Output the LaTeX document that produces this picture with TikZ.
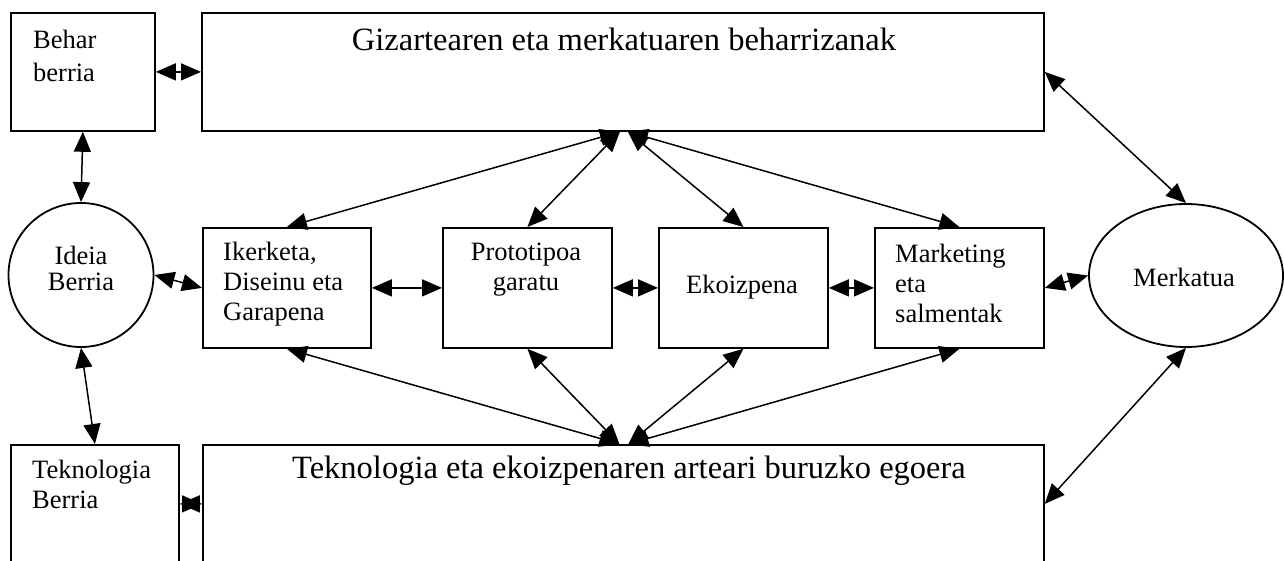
\documentclass[tikz,border=0pt]{standalone}
\usepackage{fontspec}
\setmainfont{Liberation Serif}
\usetikzlibrary{arrows.meta,shapes.geometric,calc}
% stacked lines whose baseline is that of the first line
\newcommand{\txtstack}[2]{\begin{tabular}[t]{@{}#1@{}}#2\end{tabular}}
\begin{document}
\begin{tikzpicture}[x=1pt,y=-1pt,
  box/.style={draw,line width=1.8pt,rectangle,inner sep=0pt,anchor=north west},
  oval/.style={draw,line width=1.8pt,ellipse,inner sep=0pt},
  link/.style={line width=1.5pt,{Triangle[length=20pt,width=17pt]}-{Triangle[length=20pt,width=17pt]}},
  small/.style={font=\fontsize{26.5}{30}\selectfont,inner sep=0pt},
  big/.style={font=\fontsize{32.5}{38}\selectfont,inner sep=0pt}]
\clip (0,0) rectangle (1284,561);
\fill[white] (0,0) rectangle (1284,561);

% frames
\node[box,minimum width=144pt,minimum height=118pt] (behar) at (10,12) {};
\node[box,minimum width=842pt,minimum height=118pt] (giz) at (201,12) {};
\node[box,minimum width=168pt,minimum height=120pt] (iker) at (202,227) {};
\node[box,minimum width=169pt,minimum height=120pt] (proto) at (442,227) {};
\node[box,minimum width=169pt,minimum height=120pt] (ekoiz) at (658,227) {};
\node[box,minimum width=169pt,minimum height=120pt] (mkt) at (874,227) {};
\node[box,minimum width=168pt,minimum height=118pt] (tekb) at (10,444) {};
\node[box,minimum width=841pt,minimum height=118pt] (tek) at (202,444) {};
\node[oval,minimum width=145pt,minimum height=144pt] (ideia) at (81,275) {};
\node[oval,minimum width=194pt,minimum height=143pt] (merk) at (1186,275.5) {};

% labels
\node[small,font=\fontsize{26.5}{33}\selectfont,anchor=base west] (behar-t) at (33,49) {\txtstack{l}{Behar\\berria}};
\node[big,anchor=base] (giz-t) at (624,51) {Gizartearen eta merkatuaren beharrizanak};
\node[small,font=\fontsize{26.5}{26}\selectfont,anchor=base] (ideia-t) at (81,265) {\txtstack{c}{Ideia\\Berria}};
\node[small,anchor=base west] (iker-t) at (223,261) {\txtstack{l}{Ikerketa,\\Diseinu eta\\Garapena}};
\node[small,anchor=base] (proto-t) at (526,261) {\txtstack{c}{Prototipoa\\garatu}};
\node[small,anchor=base] (ekoiz-t) at (742,293) {Ekoizpena};
\node[small,anchor=base west] (mkt-t) at (895,262) {\txtstack{l}{Marketing\\eta\\salmentak}};
\node[small,anchor=base] (merk-t) at (1184,287) {Merkatua};
\node[small,anchor=base west] (tekb-t) at (32,478) {\txtstack{l}{Teknologia\\Berria}};
\node[big,anchor=base west] (tek-t) at (292,478) {Teknologia eta ekoizpenaren arteari buruzko egoera};

% meeting points of the fans
\coordinate (gl) at ($(giz.south)+(-3,0)$);
\coordinate (gr) at ($(giz.south)+(5,0)$);
\coordinate (tl) at ($(tek.north)+(-4,0)$);
\coordinate (tr) at ($(tek.north)+(5,0)$);

% connectors
\draw[link] (behar.east) -- (giz.west);
\draw[link] (behar.south) -- (ideia.north);
\draw[link] (ideia.south) -- (tekb.north);
\draw[link] (tekb.east) -- (tek.west);
\draw[link] (ideia.east) -- (iker.west);
\draw[link] (iker.east) -- (proto.west);
\draw[link] (proto.east) -- (ekoiz.west);
\draw[link] (ekoiz.east) -- (mkt.west);
\draw[link] (mkt.east) -- (merk.west);
\draw[link] (giz.east) -- (merk.north);
\draw[link] (tek.east) -- (merk.south);
\draw[link] (gl) -- (iker.north);
\draw[link] (gl) -- (proto.north);
\draw[link] (gr) -- (ekoiz.north);
\draw[link] (gr) -- (mkt.north);
\draw[link] (tl) -- (iker.south);
\draw[link] (tl) -- (proto.south);
\draw[link] (tr) -- (ekoiz.south);
\draw[link] (tr) -- (mkt.south);
\end{tikzpicture}
\end{document}
